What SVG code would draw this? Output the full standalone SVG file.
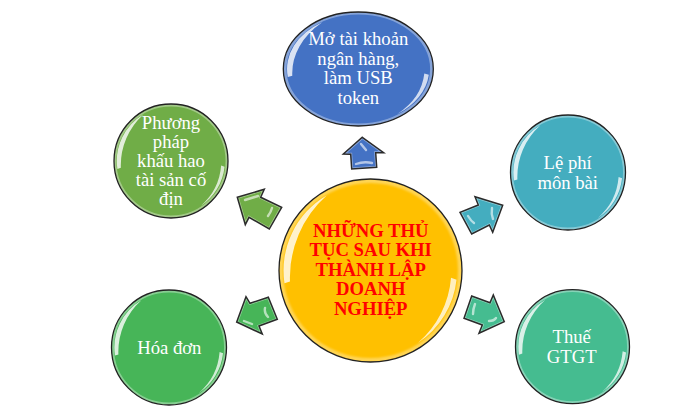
<svg xmlns="http://www.w3.org/2000/svg" width="699" height="418" viewBox="0 0 699 418">
<style>
text{font-family:"Liberation Serif","Times New Roman",serif;font-size:18.67px;text-anchor:middle;fill:#fff}
.c{font-weight:bold;fill:#f00}
.o{fill:none;stroke:#222;stroke-width:1.3}
.a{fill:none;stroke:#2b2b2b;stroke-width:1.5;stroke-linejoin:miter}
.r{fill:none;stroke:#fff;stroke-width:3;opacity:.4;filter:url(#s)}
.h{fill:none;stroke:#fff;stroke-width:2.4;stroke-linecap:round;opacity:.6;filter:url(#s)}
</style>
<defs>
<filter id="s" x="-50%" y="-50%" width="200%" height="200%"><feGaussianBlur stdDeviation=".7"/></filter>
<filter id="g" x="-20%" y="-20%" width="140%" height="140%"><feGaussianBlur stdDeviation="1"/></filter>
<polygon id="p1" points="362.3,137.3 383.7,152.7 375.7,152.7 376.7,167.3 351.7,169 350.7,154.3 343.3,154"/>
<polygon id="p2" points="237.3,197.3 264.3,189.3 260.7,197.3 281.7,207.3 269.3,229 249,217.3 245.3,224.7"/>
<polygon id="p3" points="502.7,205.3 475,196.7 478.3,205 460,212.3 471.7,234 489.3,225 492.7,232.3"/>
<polygon id="p4" points="236.7,322 246,296.7 250,303.3 268.3,297.3 277.3,319.3 259,326 262.3,334"/>
<polygon id="p5" points="504.3,321.7 493.3,295 490,302.7 471.7,296 464,318.3 482.3,325 479,333.3"/>
<g id="gloss">
<circle r="98" fill="none" stroke="#fff" stroke-width="4.5" opacity=".35" filter="url(#g)"/>
<path d="M-94,14A95,95 0 0 1 -48,-82A120,120 0 0 0 -88,12Z" fill="#fff" opacity=".8" filter="url(#s)"/>
<path d="M94,10A95,95 0 0 1 52,79A105,105 0 0 0 88,8Z" fill="#fff" opacity=".75" filter="url(#s)"/>
</g>
</defs>
<g id="connectors">
<g id="arrow-top">
<use href="#p1" fill="#4472C4"/><use href="#p1" class="r"/>
<path class="h" d="M361,144L366,150M356,164Q364,161 372,163"/>
<use href="#p1" class="a"/>
</g>
<g id="arrow-left">
<use href="#p2" fill="#70AD47"/><use href="#p2" class="r"/>
<path class="h" d="M245,200L258,196M268,216Q271,212 272,208"/>
<use href="#p2" class="a"/>
</g>
<g id="arrow-right">
<use href="#p3" fill="#44ADBF"/><use href="#p3" class="r"/>
<path class="h" d="M468,216Q471,221 474,223M492,208Q491,214 493,219"/>
<use href="#p3" class="a"/>
</g>
<g id="arrow-bottom-left">
<use href="#p4" fill="#47B558"/><use href="#p4" class="r"/>
<path class="h" d="M265,308Q264,313 268,317M244,321L252,324"/>
<use href="#p4" class="a"/>
</g>
<g id="arrow-bottom-right">
<use href="#p5" fill="#45BC90"/><use href="#p5" class="r"/>
<path class="h" d="M475,304Q473,309 473,314M489,321Q494,321 496,318"/>
<use href="#p5" class="a"/>
</g>
</g>
<g id="node-center">
<circle cx="370.5" cy="270.5" r="91.5" fill="#FFC000"/>
<use href="#gloss" transform="translate(370.5 270.5) scale(.915)"/>
<circle class="o" cx="370.5" cy="270.5" r="91.5"/>
<text class="c" x="370.7" y="236.7">NHỮNG THỦ</text>
<text class="c" x="370.7" y="256.3">TỤC SAU KHI</text>
<text class="c" x="370.7" y="275.9">THÀNH LẬP</text>
<text class="c" x="370.7" y="295.4">DOANH</text>
<text class="c" x="370.7" y="315">NGHIỆP</text>
</g>
<g id="node-top">
<ellipse cx="358.3" cy="69" rx="75" ry="57" fill="#4472C4"/>
<use href="#gloss" transform="translate(358.3 69) scale(.75 .57)"/>
<ellipse class="o" cx="358.3" cy="69" rx="75" ry="57"/>
<text x="358.3" y="45">Mở tài khoản</text>
<text x="358.3" y="64.5">ngân hàng,</text>
<text x="358.3" y="84">làm USB</text>
<text x="358.3" y="103.5">token</text>
</g>
<g id="node-left">
<circle cx="171" cy="161" r="57" fill="#70AD47"/>
<use href="#gloss" transform="translate(171 161) scale(.57)"/>
<circle class="o" cx="171" cy="161" r="57"/>
<text x="171" y="129.3">Phương</text>
<text x="171" y="148.2">pháp</text>
<text x="171" y="167.1">khấu hao</text>
<text x="171" y="186.1">tài sản cố</text>
<text x="171" y="205">địn</text>
</g>
<g id="node-right">
<circle cx="568" cy="172.5" r="57.5" fill="#44ADBF"/>
<use href="#gloss" transform="translate(568 172.5) scale(.575)"/>
<circle class="o" cx="568" cy="172.5" r="57.5"/>
<text x="567.7" y="169.3">Lệ phí</text>
<text x="567.7" y="189">môn bài</text>
</g>
<g id="node-bottom-left">
<circle cx="169" cy="347.5" r="57.5" fill="#47B558"/>
<use href="#gloss" transform="translate(169 347.5) scale(.575)"/>
<circle class="o" cx="169" cy="347.5" r="57.5"/>
<text x="169.3" y="354">Hóa đơn</text>
</g>
<g id="node-bottom-right">
<circle cx="572.5" cy="346.7" r="57" fill="#45BC90"/>
<use href="#gloss" transform="translate(572.5 346.7) scale(.57)"/>
<circle class="o" cx="572.5" cy="346.7" r="57"/>
<text x="571.7" y="342.7">Thuế</text>
<text x="571.7" y="362.7">GTGT</text>
</g>
</svg>
